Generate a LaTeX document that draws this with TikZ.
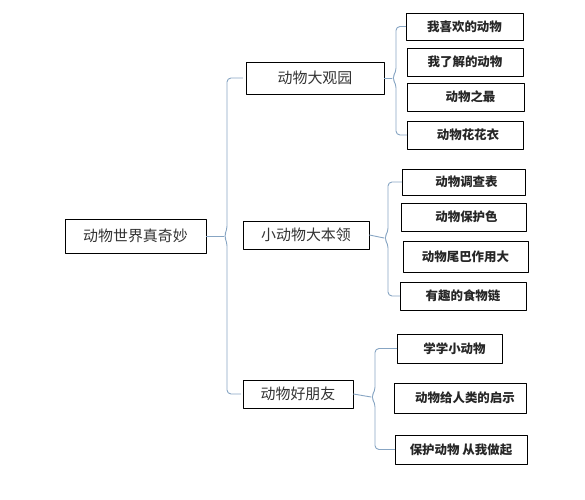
\documentclass[tikz,border=0pt]{standalone}
\usepackage{fontspec}
\newfontfamily\cjk{Noto Sans CJK SC}
\usetikzlibrary{calc}
\definecolor{linkblue}{RGB}{135,165,195}
\tikzset{
  box/.style={draw=black, line width=.9bp, fill=white, inner sep=0pt, text=black!80},
  topbox/.style={box, font=\cjk\fontsize{15}{15}\selectfont},
  leafbox/.style={box, font=\cjk\bfseries\fontsize{12.5}{12.5}\selectfont, text=black!85},
  link/.style={draw=linkblue, line width=.9bp, rounded corners=4bp}
}
\begin{document}
\begin{tikzpicture}[x=1bp, y=-1bp, line join=round, line cap=round]
	\useasboundingbox (0,0) rectangle (585,500);
	% root and main branches
	\node[topbox, minimum width=141bp, minimum height=34bp] (root) at (135.5,236) {动物世界真奇妙};
	\node[topbox, minimum width=138bp, minimum height=32bp] (park) at (315,78) {动物大观园};
	\node[topbox, minimum width=126bp, minimum height=28bp] (skill) at (306,235) {小动物大本领};
	\node[topbox, minimum width=110bp, minimum height=28bp] (friend) at (298,394) {动物好朋友};
	% leaves of the first branch
	\node[leafbox, minimum width=117bp, minimum height=27bp] (like) at (464.5,26.5) {我喜欢的动物};
	\node[leafbox, minimum width=116bp, minimum height=28bp] (know) at (465,62) {我了解的动物};
	\node[leafbox, minimum width=117bp, minimum height=28bp] (most) at (465.5,97) {\hspace{10bp}动物之最};
	\node[leafbox, minimum width=116bp, minimum height=28bp] (coat) at (465,135) {\hspace{6bp}动物花花衣};
	% leaves of the second branch
	\node[leafbox, minimum width=123bp, minimum height=26bp] (survey) at (463.5,182) {\hspace{6bp}动物调查表};
	\node[leafbox, minimum width=125bp, minimum height=28bp] (color) at (463.5,217) {\hspace{6bp}动物保护色};
	\node[leafbox, minimum width=125bp, minimum height=31bp] (tail) at (465.5,256.5) {动物尾巴作用大};
	\node[leafbox, minimum width=126bp, minimum height=28bp] (chain) at (463,296) {有趣的食物链};
	% leaves of the third branch
	\node[leafbox, minimum width=105bp, minimum height=29bp] (learn) at (449.5,348.5) {\hspace{10bp}学学小动物};
	\node[leafbox, minimum width=132bp, minimum height=30bp] (hint) at (460,398) {\hspace{10bp}动物给人类的启示};
	\node[leafbox, minimum width=132bp, minimum height=29bp] (guard) at (461,449.5) {保护动物\ 从我做起};
	% brace tips
	\coordinate (t0) at (224,236);
	\coordinate (t1) at (392,78);
	\coordinate (t2) at (384,238);
	\coordinate (t3) at (371,397);
	% braces
	\draw[link] (root.east) -- (t0);
	\draw[link] ([xshift=-3bp]park.west) -| ($(t0)+(3,-6)$) -- (t0) -- ($(t0)+(3,6)$) |- ([xshift=-2bp]friend.west);
	\draw[link] (park.east) -- (t1);
	\draw[link] (like.west) -| ($(t1)+(4,-6)$) -- (t1) -- ($(t1)+(4,6)$) |- (coat.west);
	\draw[link] (skill.east) -- (t2);
	\draw[link] (survey.west) -| ($(t2)+(4,-6)$) -- (t2) -- ($(t2)+(4,6)$) |- (chain.west);
	\draw[link] (friend.east) -- (t3);
	\draw[link] (learn.west) -| ($(t3)+(4,-6)$) -- (t3) -- ($(t3)+(4,6)$) |- (guard.west);
\end{tikzpicture}
\end{document}
